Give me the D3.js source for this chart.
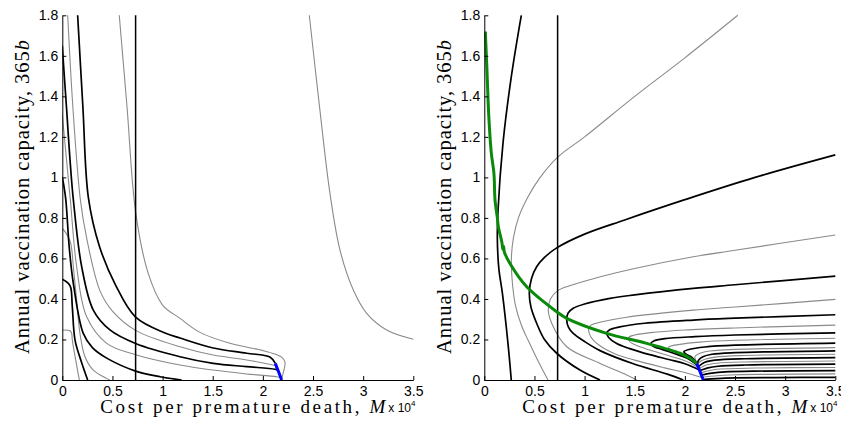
<!DOCTYPE html>
<html>
<head>
<meta charset="utf-8">
<script src="https://cdn.jsdelivr.net/npm/d3@7"></script>
<style>
  body { margin: 0; background: #fff; }
</style>
</head>
<body>
<svg id="fig"></svg>
<script>
// tick values and labels
var xTicks = [0, 0.5, 1, 1.5, 2, 2.5, 3, 3.5];
var yTicks = [0, 0.2, 0.4, 0.6, 0.8, 1, 1.2, 1.4, 1.6, 1.8];
var xLabel = 'Cost per premature death, ';
var xLabelVar = 'M';
var xScaleNote = 'x 10';
var xScaleExp = '4';
var yLabel = 'Annual vaccination capacity, 365';
var yLabelVar = 'b';

// vertical threshold line (M, x10^4)
var thresholdM = 0.731;

// left panel: contour curves, [M, 365b]
var leftBlack = [
  [[0,0.497],[0.06,0.477],[0.084,0.457],[0.1,0.36],[0.127,0.197],[0.19,0.09],[0.253,0]],
  [[0,1.0],[0.015,0.96],[0.035,0.89],[0.07,0.65],[0.11,0.477],[0.209,0.23],[0.3,0.16],[0.443,0.108],[0.731,0.044],[0.974,0.016],[1.19,0]],
  [[0,1.65],[0.02,1.5],[0.044,1.33],[0.075,1.1],[0.11,0.89],[0.193,0.56],[0.309,0.345],[0.475,0.247],[0.731,0.18],[1.174,0.115],[1.505,0.082],[1.838,0.066],[2.12,0.053],[2.16,0.045]],
  [[0.153,1.8],[0.205,1.35],[0.26,0.9],[0.37,0.66],[0.53,0.47],[0.731,0.31],[1.024,0.232],[1.174,0.207],[1.505,0.158],[1.838,0.132],[2.07,0.113],[2.124,0.082]]
];
var leftGray = [
  [[0,0.247],[0.077,0.243],[0.093,0.23],[0.1,0.197],[0.17,0]],
  [[0,0.748],[0.044,0.72],[0.084,0.674],[0.11,0.559],[0.143,0.394],[0.176,0.23],[0.226,0.115],[0.309,0.049],[0.442,0.008],[0.475,0]],
  [[0,1.31],[0.03,1.15],[0.08,0.89],[0.143,0.559],[0.243,0.312],[0.443,0.181],[0.731,0.125],[1.174,0.074],[1.505,0.049],[1.838,0.03],[2.137,0.016],[2.18,0.01]],
  [[0.054,1.8],[0.105,1.35],[0.18,0.89],[0.243,0.7],[0.376,0.44],[0.5,0.34],[0.731,0.245],[1.174,0.164],[1.505,0.123],[1.838,0.099],[2.1,0.074],[2.13,0.07]],
  [[0.568,1.8],[0.645,1.35],[0.731,0.83],[0.857,0.526],[1.0,0.37],[1.174,0.304],[1.373,0.235],[1.672,0.181],[2.0,0.145],[2.12,0.128],[2.19,0.112],[2.22,0.09],[2.215,0.06],[2.2,0.03],[2.19,0.01]],
  [[2.463,1.8],[2.569,1.331],[2.669,0.921],[2.769,0.641],[2.902,0.444],[3.035,0.329],[3.234,0.247],[3.5,0.201]]
];
var leftBlue = [[2.124,0.082],[2.145,0.055],[2.165,0.03],[2.187,0]];

// right panel
var rightBlack = [
  [[0.369,1.8],[0.269,1.496],[0.186,1.167],[0.137,0.838],[0.13,0.7],[0.145,0.55],[0.18,0.43],[0.236,0.181],[0.269,0]],
  [[3.5,1.111],[2.7,1.0],[2.0,0.89],[1.4,0.79],[1.0,0.72],[0.722,0.652],[0.6,0.605],[0.522,0.559],[0.47,0.5],[0.449,0.43],[0.465,0.36],[0.522,0.28],[0.6,0.2],[0.722,0.132],[0.954,0.049],[1.154,0]],
  [[3.5,0.513],[2.5,0.47],[2.084,0.452],[1.5,0.42],[1.253,0.403],[1.0,0.375],[0.887,0.354],[0.835,0.33],[0.822,0.296],[0.84,0.26],[0.887,0.23],[1.0,0.19],[1.154,0.145],[1.486,0.08],[1.818,0.03],[1.984,0]],
  [[3.5,0.322],[2.5,0.305],[2.084,0.296],[1.6,0.28],[1.35,0.262],[1.25,0.248],[1.22,0.232],[1.24,0.21],[1.32,0.18],[1.45,0.155],[1.65,0.125],[1.85,0.1],[2.0,0.08],[2.15,0.048]],
  [[3.5,0.233],[2.5,0.222],[2.1,0.214],[1.8,0.204],[1.69,0.193],[1.66,0.18],[1.68,0.168],[1.78,0.15],[1.9,0.13],[2.02,0.108],[2.125,0.072]],
  [[3.5,0.182],[2.5,0.172],[2.2,0.163],[2.05,0.152],[1.99,0.14],[2.01,0.128],[2.07,0.112],[2.12,0.083]],
  [[3.5,0.144],[2.5,0.135],[2.27,0.127],[2.18,0.115],[2.14,0.1],[2.125,0.082]],
  [[3.5,0.11],[2.6,0.105],[2.3,0.098],[2.2,0.088],[2.16,0.076],[2.132,0.065]],
  [[3.5,0.078],[2.6,0.074],[2.33,0.068],[2.23,0.06],[2.18,0.052],[2.148,0.045]],
  [[3.5,0.046],[2.7,0.044],[2.4,0.04],[2.27,0.034],[2.2,0.028],[2.164,0.025]],
  [[3.5,0.013],[2.9,0.012],[2.5,0.01],[2.32,0.007],[2.22,0.004],[2.182,0.002]]
];
var rightGray = [
  [[2.528,1.8],[2.0,1.59],[1.5,1.4],[1.0,1.2],[0.732,1.1],[0.55,0.995],[0.436,0.904],[0.34,0.8],[0.29,0.7],[0.27,0.6],[0.28,0.48],[0.31,0.37],[0.37,0.27],[0.436,0.197],[0.53,0.1],[0.635,0]],
  [[3.5,0.716],[2.5,0.64],[2.084,0.608],[1.5,0.55],[1.087,0.5],[0.85,0.465],[0.73,0.44],[0.66,0.4],[0.638,0.345],[0.672,0.28],[0.822,0.164],[1.154,0.082],[1.42,0.025],[1.52,0]],
  [[3.5,0.398],[2.5,0.36],[2.084,0.345],[1.42,0.31],[1.154,0.285],[1.06,0.27],[1.04,0.25],[1.06,0.215],[1.15,0.17],[1.3,0.13],[1.5,0.098],[1.8,0.06],[2.0,0.037],[2.17,0.012]],
  [[3.5,0.271],[2.5,0.257],[2.0,0.247],[1.7,0.236],[1.5,0.222],[1.44,0.21],[1.45,0.19],[1.52,0.17],[1.65,0.148],[1.85,0.118],[2.0,0.095],[2.135,0.062]],
  [[3.5,0.206],[2.5,0.196],[2.15,0.187],[1.95,0.176],[1.84,0.163],[1.85,0.15],[1.93,0.134],[2.03,0.114],[2.12,0.079]],
  [[3.5,0.16],[2.5,0.151],[2.25,0.143],[2.14,0.13],[2.1,0.115],[2.12,0.085]],
  [[3.5,0.127],[2.6,0.121],[2.3,0.113],[2.2,0.102],[2.15,0.09],[2.124,0.075]],
  [[3.5,0.094],[2.6,0.089],[2.32,0.083],[2.22,0.075],[2.17,0.064],[2.14,0.055]],
  [[3.5,0.062],[2.7,0.059],[2.35,0.054],[2.25,0.047],[2.19,0.04],[2.156,0.035]],
  [[3.5,0.03],[2.8,0.028],[2.45,0.025],[2.3,0.02],[2.21,0.016],[2.173,0.014]]
];
var rightBlue = [[2.118,0.082],[2.14,0.055],[2.16,0.03],[2.184,0]];
var rightGreen = [[0.01,1.72],[0.025,1.55],[0.045,1.3],[0.07,1.12],[0.096,1.02],[0.107,0.888],[0.13,0.8],[0.14,0.756],[0.175,0.68],[0.185,0.645],[0.192,0.66],[0.2,0.632],[0.256,0.575],[0.423,0.46],[0.722,0.337],[0.822,0.304],[1.22,0.23],[1.619,0.181],[1.951,0.132],[2.051,0.107],[2.118,0.082]];

var width = 841;
var height = 429;

var svg = d3.select('#fig')
            .attr('width', width)
            .attr('height', height)
            .style('display', 'block')
            .style('background', '#fff');

function panel(id, left, black, gray, blue, green) {
  var plotW = 351;
  var top = 15.3;
  var bottom = 380;

  var xScale = d3.scaleLinear()
                 .domain([0, 3.5])
                 .range([left, left + plotW]);

  var yScale = d3.scaleLinear()
                 .domain([0, 1.8])
                 .range([bottom, top]);

  svg.append('clipPath')
     .attr('id', id)
     .append('rect')
     .attr('x', left)
     .attr('y', top - 1)
     .attr('width', plotW + 1)
     .attr('height', bottom - top + 1);

  var line = d3.line()
               .x(function(d){ return xScale(d[0]); })
               .y(function(d){ return yScale(d[1]); })
               .curve(d3.curveCatmullRom.alpha(0.5));

  var plot = svg.append('g')
                .attr('clip-path', 'url(#' + id + ')');

  plot.selectAll('path.gray')
      .data(gray)
      .enter()
      .append('path')
      .attr('class', 'gray')
      .attr('d', line)
      .attr('fill', 'none')
      .attr('stroke', '#8a8a8a')
      .attr('stroke-width', 1.1);

  plot.selectAll('path.black')
      .data(black)
      .enter()
      .append('path')
      .attr('class', 'black')
      .attr('d', line)
      .attr('fill', 'none')
      .attr('stroke', '#000')
      .attr('stroke-width', 1.7);

  plot.append('path')
      .datum([[thresholdM, 0], [thresholdM, 1.8]])
      .attr('d', line)
      .attr('fill', 'none')
      .attr('stroke', '#000')
      .attr('stroke-width', 1.5);

  plot.append('path')
      .datum(blue)
      .attr('d', line)
      .attr('fill', 'none')
      .attr('stroke', '#0000ff')
      .attr('stroke-width', 3);

  if (green) {
    plot.append('path')
        .datum(green)
        .attr('d', line)
        .attr('fill', 'none')
        .attr('stroke', '#0a8a0a')
        .attr('stroke-width', 3)
        .attr('stroke-linejoin', 'round');
  }

  // axes, matlab style (ticks inside, no box)
  var xAxis = d3.axisBottom(xScale)
                .tickValues(xTicks)
                .tickFormat(function(d){ return String(d); })
                .tickSizeInner(-4)
                .tickSizeOuter(0)
                .tickPadding(6);

  var yAxis = d3.axisLeft(yScale)
                .tickValues(yTicks)
                .tickFormat(function(d){ return String(d); })
                .tickSizeInner(-4)
                .tickSizeOuter(0)
                .tickPadding(4);

  var gx = svg.append('g')
              .attr('transform', 'translate(0,' + bottom + ')')
              .call(xAxis);

  var gy = svg.append('g')
              .attr('transform', 'translate(' + left + ',0)')
              .call(yAxis);

  [gx, gy].forEach(function(g){
    g.selectAll('text')
     .attr('fill', '#000')
     .style('font-family', '"Liberation Sans", Arial, sans-serif')
     .style('font-size', '14px');
    g.selectAll('line').attr('stroke', '#000');
    g.select('.domain').attr('stroke', '#000');
  });

  var xl = svg.append('text')
              .attr('x', left + 180.5)
              .attr('y', 413)
              .attr('text-anchor', 'middle')
              .attr('font-family', '"Liberation Serif", "Times New Roman", serif')
              .attr('font-size', 19)
              .attr('textLength', 285)
              .attr('lengthAdjust', 'spacing');
  xl.append('tspan').text(xLabel);
  xl.append('tspan').attr('font-style', 'italic').text(xLabelVar);

  var note = svg.append('text')
                .attr('x', left + 326)
                .attr('y', 412)
                .attr('font-family', '"Liberation Sans", Arial, sans-serif')
                .attr('font-size', 12);
  note.append('tspan').text(xScaleNote);
  note.append('tspan').attr('font-size', 8).attr('dy', -6).text(xScaleExp);

  var yl = svg.append('text')
              .attr('transform', 'translate(' + (left - 33.5) + ',197) rotate(-90)')
              .attr('text-anchor', 'middle')
              .attr('font-family', '"Liberation Serif", "Times New Roman", serif')
              .attr('font-size', 20.5)
              .attr('textLength', 314)
              .attr('lengthAdjust', 'spacing');
  yl.append('tspan').text(yLabel);
  yl.append('tspan').attr('font-style', 'italic').text(yLabelVar);
}

panel('clipL', 62.3, leftBlack, leftGray, leftBlue, null);
panel('clipR', 484.3, rightBlack, rightGray, rightBlue, rightGreen);
</script>
</body>
</html>
